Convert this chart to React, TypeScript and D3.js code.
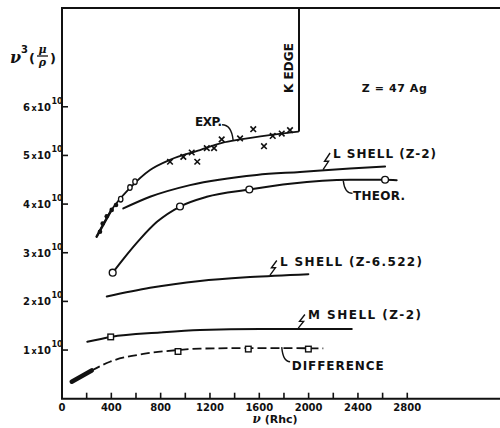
import React from "react";
import * as d3 from "d3";

const W = 500;
const H = 428;

// axis ticks
const xTickValues = [200, 400, 600, 800, 1000, 1200, 1400, 1600, 1800, 2000, 2200, 2400, 2600, 2800];
const xTickLabels = [0, 400, 800, 1200, 1600, 2000, 2400, 2800];
const yTickValues = [1, 2, 3, 4, 5, 6];

// K absorption edge (Rhc units)
const kEdge = 1922;

// experimental curve (units of 1e10)
const expV = [281, 397, 551, 714, 876, 1119, 1298, 1444, 1687, 1916];
const expY = [3.33, 3.86, 4.33, 4.7, 4.91, 5.11, 5.26, 5.33, 5.42, 5.49];
const expDotV = [308, 330, 363, 403, 438];
const expDotY = [3.43, 3.6, 3.75, 3.88, 3.98];
const expRingV = [476, 551, 592];
const expRingY = [4.1, 4.34, 4.46];
const expCrossV = [876, 984, 1052, 1097, 1174, 1233, 1295, 1444, 1551, 1638, 1709, 1782, 1849];
const expCrossY = [4.87, 4.97, 5.06, 4.87, 5.15, 5.15, 5.33, 5.35, 5.54, 5.19, 5.4, 5.45, 5.52];

// L shell, Z-2
const lShell2V = [497, 714, 1038, 1579, 1930, 2336, 2620];
const lShell2Y = [3.91, 4.15, 4.39, 4.6, 4.66, 4.73, 4.77];

// theoretical total
const theorV = [411, 497, 633, 768, 957, 1174, 1519, 1849, 2336, 2620, 2714];
const theorY = [2.59, 2.87, 3.28, 3.63, 3.95, 4.15, 4.3, 4.42, 4.5, 4.5, 4.49];
const theorPtV = [411, 957, 1519, 2620];
const theorPtY = [2.59, 3.95, 4.3, 4.5];

// L shell, Z-6.522
const lShell6V = [363, 714, 1119, 1525, 1998];
const lShell6Y = [2.1, 2.28, 2.42, 2.5, 2.56];

// M shell, Z-2
const mShellV = [205, 395, 795, 1119, 1606, 2350];
const mShellY = [1.17, 1.27, 1.36, 1.41, 1.43, 1.43];
const mShellPtV = [395];
const mShellPtY = [1.27];

// difference curve
const diffV = [79, 241, 389, 659, 941, 1119, 1500, 2119];
const diffY = [0.35, 0.58, 0.76, 0.92, 1.0, 1.03, 1.04, 1.035];
const diffPtV = [941, 1511, 1998];
const diffPtY = [0.97, 1.02, 1.02];

const x = d3.scaleLinear().domain([0, 3552]).range([62, 500]);
const y = d3.scaleLinear().domain([0, 8.03]).range([398.7, 8]);

const zip = (a: number[], b: number[]) => a.map((v, i) => [v, b[i]] as [number, number]);

const line = d3
  .line<[number, number]>()
  .x((d) => x(d[0]))
  .y((d) => y(d[1]))
  .curve(d3.curveMonotoneX);

const FONT = "'DejaVu Sans', sans-serif";

type Note = {
  text: string;
  v: number;
  y: number;
  len: number;
  fromV: number;
  fromY: number;
  toV: number;
  toY: number;
  zig: boolean;
};

const notes: Note[] = [
  { text: "EXP.", v: 1079, y: 5.6, len: 27, fromV: 1298, fromY: 5.63, toV: 1388, toY: 5.31, zig: false },
  { text: "L SHELL (Z-2)", v: 2198, y: 4.95, len: 103, fromV: 2174, fromY: 5.05, toV: 2117, toY: 4.71, zig: true },
  { text: "THEOR.", v: 2360, y: 4.08, len: 52, fromV: 2356, fromY: 4.22, toV: 2281, toY: 4.48, zig: false },
  { text: "L SHELL (Z-6.522)", v: 1768, y: 2.73, len: 142, fromV: 1742, fromY: 2.84, toV: 1687, toY: 2.54, zig: true },
  { text: "M SHELL (Z-2)", v: 1995, y: 1.63, len: 113, fromV: 1970, fromY: 1.73, toV: 1916, toY: 1.45, zig: true },
  { text: "DIFFERENCE", v: 1863, y: 0.6, len: 92, fromV: 1850, fromY: 0.76, toV: 1782, toY: 1.06, zig: false },
];

function leaderPath(n: Note) {
  const x0 = x(n.fromV);
  const y0 = y(n.fromY);
  const x1 = x(n.toV);
  const y1 = y(n.toY);
  if (n.zig) {
    const mx = (x0 + x1) / 2;
    const my = (y0 + y1) / 2;
    return `M${x0},${y0} L${mx - 2},${my} L${mx + 2},${my} L${x1},${y1}`;
  }
  const cx = x1 + (x0 - x1) * 0.15;
  const cy = y0;
  return `M${x0},${y0} Q${cx},${cy} ${x1},${y1}`;
}

function Cross({ cx, cy }: { cx: number; cy: number }) {
  const s = 2.8;
  return (
    <path
      d={`M${cx - s},${cy - s}L${cx + s},${cy + s}M${cx + s},${cy - s}L${cx - s},${cy + s}`}
      stroke="#111"
      strokeWidth={1.6}
    />
  );
}

export default function App() {
  const axisX = x(0);
  const axisY = y(0);
  const top = y(8.03);

  const expEnd = zip(expV, expY)[expV.length - 1];

  return (
    <svg
      width={W}
      height={H}
      style={{ position: "absolute", left: 0, top: 0, background: "#fff" }}
      fontFamily={FONT}
    >
      <rect width={W} height={H} fill="#fff" />

      {/* frame */}
      <path
        d={`M${W},${top} L${axisX},${top} L${axisX},${axisY} L${W},${axisY}`}
        fill="none"
        stroke="#111"
        strokeWidth={2}
      />

      {/* K edge */}
      <line
        x1={x(kEdge)}
        x2={x(kEdge)}
        y1={top}
        y2={y(expEnd[1])}
        stroke="#111"
        strokeWidth={2}
      />
      <text
        transform={`translate(${x(kEdge) - 6},${68}) rotate(-90)`}
        textAnchor="middle"
        fontSize={12}
        fontWeight="bold"
        fill="#111"
        textLength={50}
        lengthAdjust="spacing"
      >
        K EDGE
      </text>

      {/* x ticks */}
      {xTickValues.map((v) => (
        <line key={v} x1={x(v)} x2={x(v)} y1={axisY} y2={axisY - 6} stroke="#111" strokeWidth={1.6} />
      ))}
      {xTickLabels.map((v) => (
        <text
          key={v}
          x={x(v)}
          y={axisY + 12}
          textAnchor="middle"
          fontSize={10}
          fontWeight="bold"
          fill="#111"
        >
          {v}
        </text>
      ))}
      <text x={275} y={423} textAnchor="middle" fontSize={11} fontWeight="bold" fill="#111">
        <tspan fontStyle="italic" fontFamily="'DejaVu Serif', serif" fontSize={12}>
          ν
        </tspan>
        <tspan dx={4}>(Rhc)</tspan>
      </text>

      {/* y ticks */}
      {yTickValues.map((v) => (
        <g key={v}>
          <line x1={axisX} x2={axisX + 6} y1={y(v)} y2={y(v)} stroke="#111" strokeWidth={1.6} />
          <text x={51} y={y(v) + 4} textAnchor="end" fontSize={10} fontWeight="bold" fill="#111">
            {v}
            <tspan fontSize={8} dx={1.5}>
              x
            </tspan>
            <tspan dx={0.5}>10</tspan>
          </text>
          <text x={51.5} y={y(v) - 3} fontSize={8} fontWeight="bold" fill="#111">
            10
          </text>
        </g>
      ))}

      {/* y axis title */}
      <g fill="#111" fontWeight="bold">
        <text x={10} y={63} fontSize={16} fontStyle="italic" fontFamily="'DejaVu Serif', serif">
          ν
        </text>
        <text x={21} y={53} fontSize={10}>
          3
        </text>
        <text x={29} y={63} fontSize={13}>
          (
        </text>
        <text x={42.5} y={53} fontSize={11} textAnchor="middle" fontFamily="'DejaVu Serif', serif" fontStyle="italic">
          μ
        </text>
        <line x1={37} x2={48} y1={56} y2={56} stroke="#111" strokeWidth={1.3} />
        <text x={42.5} y={66} fontSize={11} textAnchor="middle" fontFamily="'DejaVu Serif', serif" fontStyle="italic">
          ρ
        </text>
        <text x={50} y={63} fontSize={13}>
          )
        </text>
      </g>

      {/* curves */}
      <g fill="none" stroke="#111" strokeLinecap="round">
        <path d={line(zip(expV, expY)) ?? ""} strokeWidth={1.8} />
        <path d={line(zip(expV.slice(0, 2), expY.slice(0, 2))) ?? ""} strokeWidth={2.4} />
        <path d={line(zip(lShell2V, lShell2Y)) ?? ""} strokeWidth={2} />
        <path d={line(zip(theorV, theorY)) ?? ""} strokeWidth={2} />
        <path d={line(zip(lShell6V, lShell6Y)) ?? ""} strokeWidth={2} />
        <path d={line(zip(mShellV, mShellY)) ?? ""} strokeWidth={2} />
        <path d={line(zip(diffV.slice(1), diffY.slice(1))) ?? ""} strokeWidth={1.8} strokeDasharray="9,4" strokeLinecap="butt" />
        <path d={line(zip(diffV.slice(0, 2), diffY.slice(0, 2))) ?? ""} strokeWidth={4.5} />
      </g>

      {/* experimental points */}
      {zip(expDotV, expDotY).map(([v, yy], i) => (
        <circle key={`d${i}`} cx={x(v)} cy={y(yy)} r={2.3} fill="#111" />
      ))}
      {zip(expRingV, expRingY).map(([v, yy], i) => (
        <ellipse key={`r${i}`} cx={x(v)} cy={y(yy)} rx={2.2} ry={2.8} fill="#fff" stroke="#111" strokeWidth={1.3} />
      ))}
      {zip(expCrossV, expCrossY).map(([v, yy], i) => (
        <Cross key={`c${i}`} cx={x(v)} cy={y(yy)} />
      ))}

      {/* theoretical points */}
      {zip(theorPtV, theorPtY).map(([v, yy], i) => (
        <circle key={`t${i}`} cx={x(v)} cy={y(yy)} r={3.4} fill="#fff" stroke="#111" strokeWidth={1.4} />
      ))}
      {zip(mShellPtV, mShellPtY).map(([v, yy], i) => (
        <rect key={`m${i}`} x={x(v) - 2.8} y={y(yy) - 2.8} width={5.6} height={5.6} fill="#fff" stroke="#111" strokeWidth={1.4} />
      ))}
      {zip(diffPtV, diffPtY).map(([v, yy], i) => (
        <rect key={`q${i}`} x={x(v) - 2.8} y={y(yy) - 2.8} width={5.6} height={5.6} fill="#fff" stroke="#111" strokeWidth={1.4} />
      ))}

      {/* annotations */}
      {notes.map((n) => (
        <g key={n.text}>
          <path d={leaderPath(n)} fill="none" stroke="#111" strokeWidth={1.4} />
          <text
            x={x(n.v)}
            y={y(n.y)}
            fontSize={12}
            fontWeight="bold"
            fill="#111"
            textLength={n.len}
            lengthAdjust="spacing"
          >
            {n.text}
          </text>
        </g>
      ))}
      <text x={x(2431)} y={y(6.31)} fontSize={11} fontWeight="bold" fill="#111" textLength={65} lengthAdjust="spacing">
        Z = 47  Ag
      </text>
    </svg>
  );
}
